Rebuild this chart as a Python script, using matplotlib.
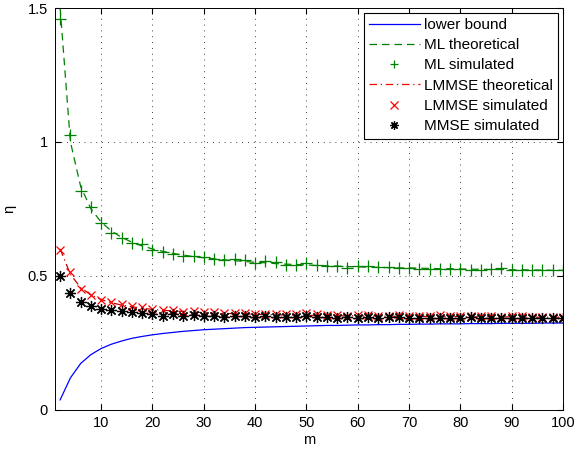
import matplotlib

matplotlib.use("Agg")
import matplotlib.pyplot as plt
import numpy as np

plt.rcParams["font.family"] = ["Liberation Sans", "DejaVu Sans"]

m_values = list(range(2, 101, 2))

lower_bound = [
    0.036, 0.118, 0.172, 0.205, 0.228, 0.244, 0.256, 0.266, 0.273, 0.279,
    0.284, 0.288, 0.292, 0.295, 0.298, 0.300, 0.302, 0.304, 0.306, 0.307,
    0.308, 0.309, 0.310, 0.311, 0.312, 0.313, 0.314, 0.314, 0.315, 0.316,
    0.316, 0.317, 0.317, 0.318, 0.318, 0.319, 0.319, 0.320, 0.320, 0.320,
    0.321, 0.321, 0.321, 0.322, 0.322, 0.322, 0.322, 0.323, 0.323, 0.323,
]
ml_theory = [
    1.500, 1.000, 0.833, 0.750, 0.700, 0.667, 0.643, 0.625, 0.611, 0.600,
    0.591, 0.583, 0.577, 0.571, 0.567, 0.563, 0.559, 0.556, 0.553, 0.550,
    0.548, 0.545, 0.543, 0.542, 0.540, 0.538, 0.537, 0.536, 0.534, 0.533,
    0.532, 0.531, 0.530, 0.529, 0.529, 0.528, 0.527, 0.526, 0.526, 0.525,
    0.524, 0.524, 0.523, 0.523, 0.522, 0.522, 0.521, 0.521, 0.520, 0.520,
]
ml_sim = [
    1.459, 1.024, 0.818, 0.755, 0.695, 0.660, 0.642, 0.623, 0.620, 0.597,
    0.590, 0.580, 0.575, 0.575, 0.571, 0.564, 0.560, 0.562, 0.557, 0.547,
    0.553, 0.551, 0.541, 0.541, 0.547, 0.539, 0.537, 0.535, 0.529, 0.537,
    0.535, 0.531, 0.531, 0.529, 0.529, 0.525, 0.525, 0.525, 0.526, 0.526,
    0.522, 0.520, 0.525, 0.529, 0.522, 0.522, 0.522, 0.520, 0.520, 0.520,
]
lmmse_theory = [
    0.600, 0.505, 0.455, 0.428, 0.411, 0.399, 0.390, 0.384, 0.378, 0.374,
    0.371, 0.368, 0.366, 0.364, 0.362, 0.360, 0.359, 0.358, 0.357, 0.356,
    0.355, 0.354, 0.353, 0.353, 0.352, 0.351, 0.351, 0.350, 0.350, 0.350,
    0.349, 0.349, 0.349, 0.348, 0.348, 0.348, 0.347, 0.347, 0.347, 0.347,
    0.346, 0.346, 0.346, 0.346, 0.346, 0.345, 0.345, 0.345, 0.345, 0.345,
]
lmmse_sim = [
    0.597, 0.512, 0.450, 0.429, 0.410, 0.400, 0.394, 0.388, 0.383, 0.376,
    0.373, 0.373, 0.366, 0.369, 0.366, 0.364, 0.360, 0.362, 0.361, 0.357,
    0.358, 0.358, 0.357, 0.356, 0.359, 0.357, 0.353, 0.354, 0.351, 0.354,
    0.352, 0.350, 0.351, 0.353, 0.350, 0.350, 0.351, 0.352, 0.349, 0.348,
    0.348, 0.349, 0.350, 0.347, 0.348, 0.349, 0.347, 0.347, 0.346, 0.346,
]
mmse_sim = [
    0.500, 0.435, 0.400, 0.388, 0.375, 0.370, 0.369, 0.364, 0.360, 0.356,
    0.350, 0.356, 0.351, 0.354, 0.351, 0.349, 0.345, 0.350, 0.348, 0.346,
    0.348, 0.347, 0.346, 0.344, 0.349, 0.346, 0.345, 0.343, 0.346, 0.343,
    0.346, 0.343, 0.346, 0.345, 0.343, 0.341, 0.340, 0.343, 0.342, 0.343,
    0.344, 0.342, 0.341, 0.343, 0.342, 0.340, 0.341, 0.342, 0.341, 0.340,
]

x_ticks = [10, 20, 30, 40, 50, 60, 70, 80, 90, 100]
y_ticks = [0, 0.5, 1, 1.5]
y_tick_labels = ["0", "0.5", "1", "1.5"]

fig = plt.figure(figsize=(5.77, 4.53), dpi=100)
ax = fig.add_axes([55 / 577, 1 - 409.5 / 453, (563 - 55) / 577, (409.5 - 8) / 453])

ax.plot(m_values, lower_bound, color="#0000ff", lw=0.9, label="lower bound")
ax.plot(m_values, ml_theory, color="#008000", lw=0.9, ls=(0, (6, 4)), label="ML theoretical")
ax.plot(m_values, ml_sim, color="#008000", ls="none", marker="+", ms=8, mew=0.9, label="ML simulated")
ax.plot(m_values, lmmse_theory, color="#c00000", lw=0.9, ls=(0, (6, 3, 1, 3)), label="LMMSE theoretical")
ax.plot(m_values, lmmse_sim, color="#ff0000", ls="none", marker="x", ms=6, mew=0.9, label="LMMSE simulated")
ax.plot(m_values, mmse_sim, color="black", ls="none", marker=(8, 2, 0), ms=8, mew=0.9, label="MMSE simulated")

ax.set_xlim(1, 100)
ax.set_ylim(0, 1.5)
ax.set_xticks(x_ticks)
ax.set_yticks(y_ticks)
ax.set_yticklabels(y_tick_labels)
ax.tick_params(direction="in", top=True, right=True, length=4, labelsize=10.5, pad=5)
ax.grid(True, color="black", ls=(0, (1, 6)), lw=0.6)
for spine in ax.spines.values():
    spine.set_linewidth(0.7)

ax.set_xlabel("m", fontsize=10.5, labelpad=2)
ax.set_ylabel("η", fontsize=10.5, labelpad=8)

leg = ax.legend(loc="upper right", fontsize=11, fancybox=False, framealpha=1,
                edgecolor="black", handlelength=3.3, labelspacing=0.41,
                borderaxespad=0.3, handletextpad=0.3, borderpad=0.35)
leg.get_frame().set_linewidth(0.8)
for handle in leg.legend_handles:
    handle.set_markersize(6)
leg.legend_handles[3].set_color("#ff0000")

fig.savefig("out.png", dpi=100)
